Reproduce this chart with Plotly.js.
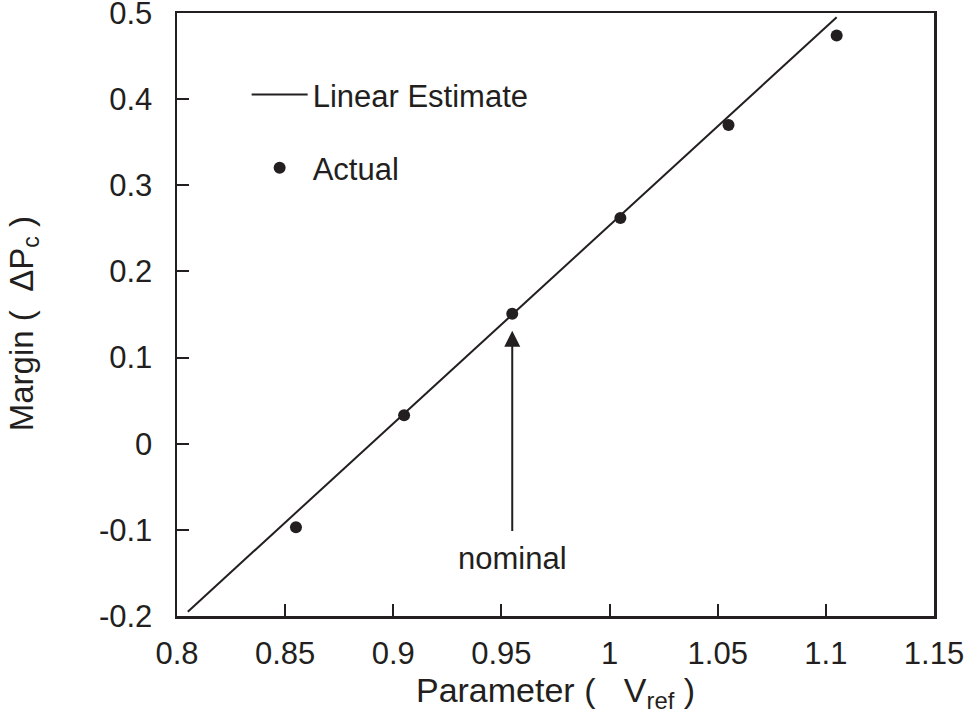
<!DOCTYPE html>
<html>
<head>
<meta charset="utf-8">
<script src="https://cdn.plot.ly/plotly-3.0.1.min.js"></script>
<style>html,body{margin:0;padding:0;background:#fff;}#chart{width:965px;height:719px;}</style>
</head>
<body>
<div id="chart"></div>
<script>
// Data
const actualX = [0.855, 0.905, 0.955, 1.005, 1.055, 1.105];
const actualY = [-0.097, 0.033, 0.151, 0.262, 0.370, 0.474];
const linearX = [0.805, 1.105];
const linearY = [-0.195, 0.495];
const xTicks = [0.8, 0.85, 0.9, 0.95, 1, 1.05, 1.1, 1.15];
const xTickLabels = ['0.8', '0.85', '0.9', '0.95', '1', '1.05', '1.1', '1.15'];
const yTicks = [-0.2, -0.1, 0, 0.1, 0.2, 0.3, 0.4, 0.5];
const yTickLabels = ['-0.2', '-0.1', '0', '0.1', '0.2', '0.3', '0.4', '0.5'];
const nominalX = 0.955;
const arrowTipY = 0.131;
const arrowTailY = -0.103;
const nominalLabelY = -0.133;

const ink = '#231f20';
const fontFam = '"Liberation Sans", Arial, Helvetica, sans-serif';
const tickSize = 31;

const traces = [
  {
    x: linearX, y: linearY, type: 'scatter', mode: 'lines',
    name: 'Linear Estimate', legendgroup: 'a',
    line: {color: ink, width: 2}
  },
  {
    x: actualX, y: actualY, type: 'scatter', mode: 'markers',
    name: 'Actual', legendgroup: 'b',
    marker: {color: ink, size: 12}
  }
];

const axisCommon = {
  showline: true, linecolor: ink, linewidth: 2.5, mirror: true,
  ticks: 'inside', ticklen: 12, tickwidth: 2, tickcolor: ink,
  showgrid: false, zeroline: false, automargin: false,
  ticklabeloverflow: 'allow',
  tickfont: {family: fontFam, size: tickSize, color: ink}
};

const layout = {
  width: 965, height: 719,
  margin: {l: 177, r: 31, t: 13, b: 103},
  paper_bgcolor: '#fff', plot_bgcolor: '#fff',
  font: {family: fontFam, color: ink, size: tickSize},
  showlegend: true,
  legend: {
    x: 0.092, y: 0.909, xanchor: 'left', yanchor: 'top',
    bgcolor: 'rgba(0,0,0,0)', borderwidth: 0,
    traceorder: 'grouped', tracegroupgap: 30,
    itemwidth: 56,
    font: {family: fontFam, size: tickSize, color: ink}
  },
  xaxis: Object.assign({}, axisCommon, {
    range: [0.8, 1.15], tickmode: 'array', tickvals: xTicks, ticktext: xTickLabels,
    ticklabelstandoff: 8,
    title: {text: 'Parameter ( &nbsp;&nbsp;V<sub>ref</sub> )', font: {family: fontFam, size: 34, color: ink}, standoff: 0}
  }),
  yaxis: Object.assign({}, axisCommon, {
    range: [-0.2, 0.5], tickmode: 'array', tickvals: yTicks, ticktext: yTickLabels,
    ticklabelstandoff: 16,
    title: {text: 'Margin ( &nbsp;ΔP<sub>c</sub> )&nbsp;&nbsp;', font: {family: fontFam, size: 33, color: ink}, standoff: 56}
  }),
  annotations: [
    {
      x: nominalX, y: arrowTipY, ax: nominalX, ay: arrowTailY,
      xref: 'x', yref: 'y', axref: 'x', ayref: 'y',
      text: '', showarrow: true, arrowhead: 2, arrowsize: 1.6, arrowwidth: 2, arrowcolor: ink
    },
    {
      x: nominalX, y: nominalLabelY, xref: 'x', yref: 'y',
      text: 'nominal', showarrow: false,
      font: {family: fontFam, size: tickSize, color: ink}
    }
  ]
};

Plotly.newPlot('chart', traces, layout, {displayModeBar: false, staticPlot: true});
</script>
</body>
</html>
